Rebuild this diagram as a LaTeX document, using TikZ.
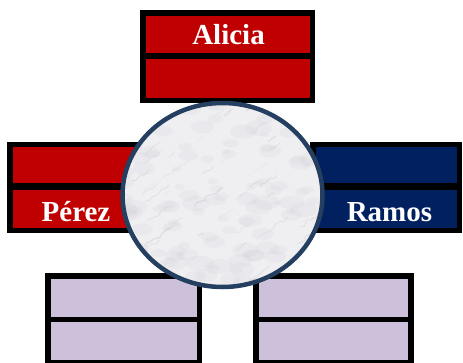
\documentclass[tikz,border=0pt]{standalone}
\usepackage{fontspec}
\setmainfont{Liberation Serif}
\usetikzlibrary{decorations.pathmorphing,shapes.geometric}
\definecolor{cellred}{HTML}{C00000}
\definecolor{cellnavy}{HTML}{002060}
\definecolor{celllilac}{HTML}{CCC0DA}
\definecolor{ringblue}{HTML}{243F60}
\definecolor{marblebase}{HTML}{EFEFF2}
\definecolor{marblevein}{HTML}{85858E}
\definecolor{marblecloud}{HTML}{A4A4AC}
\tikzset{
  frame/.style={fill=black},
  redcell/.style={fill=cellred},
  navycell/.style={fill=cellnavy},
  lilaccell/.style={fill=celllilac},
  namelabel/.style={text=white, font=\bfseries\fontsize{29}{29}\selectfont, anchor=base, inner sep=0pt},
  vein/.style={draw=marblevein, line cap=round, decorate,
    decoration={random steps, segment length=4pt, amplitude=2pt}},
  ring/.style={draw=ringblue, line width=4.5pt}
}
\begin{document}
\begin{tikzpicture}[x=1pt, y=-1pt]
\useasboundingbox (0,0) rectangle (463,362);

% top block (red)
\fill[frame] (140,10) rectangle (315,103);
\fill[redcell] (146,16) rectangle (310,53);
\fill[redcell] (146,59) rectangle (310,98);
\node[namelabel] (alicia) at (228.5,44) {Alicia};

% left block (red)
\fill[frame] (7,142) rectangle (159,233);
\fill[redcell] (13,147) rectangle (154,183);
\fill[redcell] (13,190) rectangle (154,228);
\node[namelabel] (perez) at (76,221) {Pérez};

% right block (navy)
\fill[frame] (310,142) rectangle (462,233);
\fill[navycell] (316,147) rectangle (457,183);
\fill[navycell] (316,190) rectangle (457,228);
\node[namelabel] (ramos) at (389.5,221) {Ramos};

% bottom blocks (lilac)
\fill[frame] (45,273) rectangle (202,363);
\fill[lilaccell] (51,279) rectangle (197,317);
\fill[lilaccell] (51,322) rectangle (197,360);
\fill[frame] (253,273) rectangle (414,363);
\fill[lilaccell] (259,279) rectangle (408,317);
\fill[lilaccell] (259,322) rectangle (408,360);

% marble disc in the centre
\coordinate (hub) at (222.5,195);
\begin{scope}
  \clip (hub) ellipse [x radius=100, y radius=92];
  \fill[marblebase] (hub) ellipse [x radius=100, y radius=92];
  \pgfmathsetseed{4242}
  % soft grey clouds
  \foreach \k in {1,...,140} {
    \pgfmathsetmacro{\bx}{222.5+105*rand}
    \pgfmathsetmacro{\by}{195+97*rand}
    \pgfmathsetmacro{\br}{9+5*rand}
    \fill[marblecloud, opacity=0.07] (\bx,\by) ellipse [x radius=\br, y radius=0.55*\br];
  }
  % fine veins running up to the right
  \foreach \k in {1,...,55} {
    \pgfmathsetmacro{\vx}{222.5+105*rand}
    \pgfmathsetmacro{\vy}{195+97*rand}
    \pgfmathsetmacro{\vl}{16+12*rand}
    \pgfmathsetmacro{\vo}{0.12+0.07*rand}
    \pgfmathsetmacro{\vw}{0.9+0.5*rand}
    \draw[vein, opacity=\vo, line width=\vw pt] (\vx,\vy) -- ++(\vl,-0.7*\vl);
  }
\end{scope}
\node[ring, ellipse, minimum width=200pt, minimum height=184pt, inner sep=0pt] (disc) at (hub) {};
\end{tikzpicture}
\end{document}
